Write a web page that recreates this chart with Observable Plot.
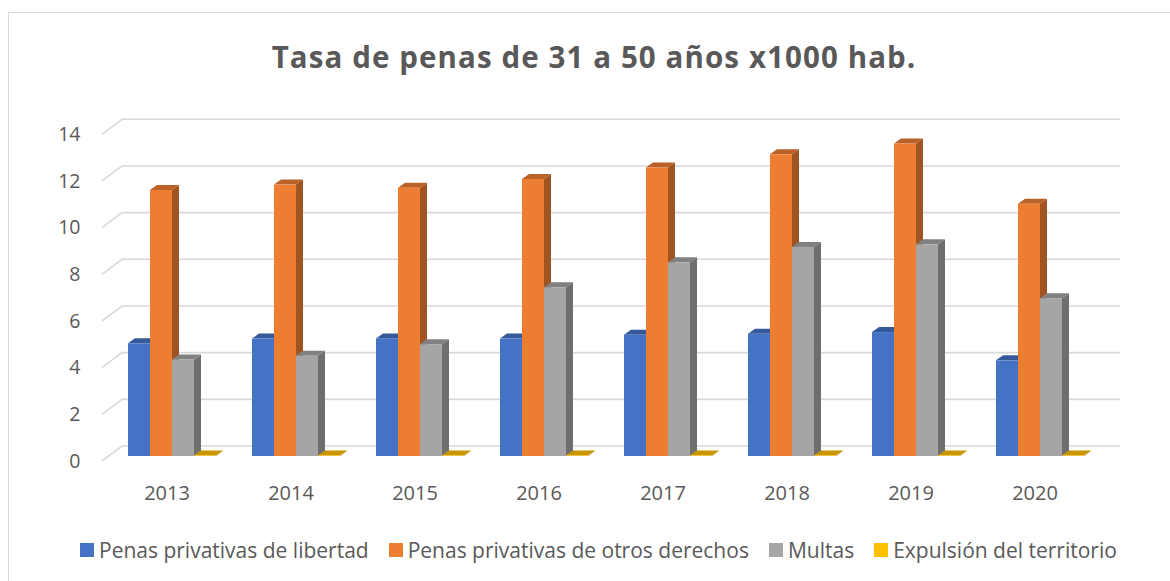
<!DOCTYPE html>
<html>
<head>
<meta charset="utf-8">
<script src="https://cdn.jsdelivr.net/npm/d3@7"></script>
<script src="https://cdn.jsdelivr.net/npm/@observablehq/plot@0.6"></script>
<style>
  html, body { margin: 0; padding: 0; background: #fff; }
  #wrap { position: relative; width: 1170px; height: 581px; overflow: hidden; font-family: "Open Sans", sans-serif; color: #595959; }
  #frame { position: absolute; left: 8px; top: 12px; width: 1300px; height: 700px; border-left: 1px solid #d9d9d9; border-top: 1px solid #d9d9d9; pointer-events: none; }
  #title { position: relative; height: 110px; box-sizing: border-box; padding-top: 42px; padding-left: 18px; text-align: center; font-weight: 700; font-size: 29.5px; line-height: 29.5px; letter-spacing: 1.1px; white-space: nowrap; }
  #chart { position: relative; height: 410px; }
  #chart svg { display: block; }
  #legend { position: relative; height: 61px; display: flex; align-items: center; padding-left: 80px; padding-bottom: 1px; box-sizing: border-box; font-size: 21px; white-space: nowrap; }
  .item { display: flex; align-items: center; margin-right: 20px; }
  .sw { width: 14px; height: 14px; margin-right: 5px; flex: none; }
</style>
</head>
<body>
<div id="wrap">
  <div id="frame"></div>
  <div id="title"></div>
  <div id="chart"></div>
  <div id="legend"></div>
</div>
<script>
// ---- data ----
const title = "Tasa de penas de 31 a 50 años x1000 hab.";
const years = ["2013", "2014", "2015", "2016", "2017", "2018", "2019", "2020"];
const series = [
  "Penas privativas de libertad",
  "Penas privativas de otros derechos",
  "Multas",
  "Expulsión del territorio"
];
const libertad      = [4.83, 5.03, 5.04, 5.03, 5.20, 5.24, 5.31, 4.10];
const otrosDerechos = [11.40, 11.63, 11.50, 11.87, 12.36, 12.93, 13.39, 10.81];
const multas        = [4.14, 4.30, 4.79, 7.23, 8.30, 8.96, 9.07, 6.76];
const expulsion     = [0.02, 0.02, 0.02, 0.02, 0.02, 0.02, 0.02, 0.02];
const yTicks = [0, 2, 4, 6, 8, 10, 12, 14];

// ---- styles ----
const colors = ["#4472C4", "#ED7D31", "#A5A5A5", "#FFC000"];
const W = 1170, H = 410;
const mL = 124, mR = 83, mT = 19.3, mB = 64;
const depthX = 7, depthY = 5;

const seriesValues = [libertad, otrosDerechos, multas, expulsion];
const rows = [];
years.forEach((year, i) => {
  series.forEach((s, j) => rows.push({ year, series: s, value: seriesValues[j][i] }));
});
const gridData = yTicks.map(v => ({ v, year: years[0] }));

document.getElementById("title").textContent = title;

function gridRender(index, scales, values) {
  const g = d3.create("svg:g");
  for (const i of index) {
    const y = values.y ? values.y[i] : scales.y(gridData[i].v);
    const yb = y - 10;
    g.append("path")
      .attr("d", `M${mL - 24},${y + 5}L${mL - 4},${yb}L${W - mR + 31},${yb}`)
      .attr("fill", "none")
      .attr("stroke", "#d9d9d9")
      .attr("stroke-width", 1.6);
  }
  return g.node();
}

function bar3D(index, scales, values) {
  const g = d3.create("svg:g");
  const bw = scales.x.bandwidth ? scales.x.bandwidth() : 22.8;
  const yBase = scales.y(0);
  for (const i of index) {
    const d = rows[i];
    const x0 = scales.x(d.series), x1 = x0 + bw;
    const yt = scales.y(d.value);
    const base = d3.color(values.fill ? values.fill[i] : scales.color(d.series));
    const side = base.darker(1.1).formatHex();
    const top = base.darker(0.7).formatHex();
    // side face
    g.append("polygon")
      .attr("points", `${x1},${yt} ${x1 + depthX},${yt - depthY} ${x1 + depthX},${yBase - depthY} ${x1},${yBase}`)
      .attr("fill", side);
    // top face
    g.append("polygon")
      .attr("points", `${x0},${yt} ${x0 + depthX},${yt - depthY} ${x1 + depthX},${yt - depthY} ${x1},${yt}`)
      .attr("fill", top);
    // front face
    g.append("rect")
      .attr("x", x0).attr("y", yt)
      .attr("width", bw).attr("height", Math.max(0, yBase - yt))
      .attr("fill", base.formatHex());
  }
  return g.node();
}

const chart = Plot.plot({
  width: W,
  height: H,
  marginLeft: mL,
  marginRight: mR,
  marginTop: mT,
  marginBottom: mB,
  style: { fontFamily: "Open Sans", color: "#595959", background: "transparent", overflow: "visible" },
  fx: { domain: years, paddingInner: 0.268, paddingOuter: 0, label: null },
  x: { domain: series, padding: 0, axis: null },
  y: { domain: [0, 14], label: null },
  color: { domain: series, range: colors },
  marks: [
    Plot.ruleY(gridData, { fx: "year", y: "v", render: gridRender }),
    Plot.barY(rows, { fx: "year", x: "series", y: "value", fill: "series", render: bar3D }),
    Plot.axisY(yTicks, { tickSize: 0, tickPadding: 46, dy: 5, fontSize: 19.5, label: null, tickFormat: d => String(d) }),
    Plot.axisFx({ anchor: "bottom", tickSize: 0, tickPadding: 29, dx: -5, fontSize: 20, label: null })
  ]
});
document.getElementById("chart").appendChild(chart);

const legend = document.getElementById("legend");
series.forEach((s, j) => {
  const item = document.createElement("div");
  item.className = "item";
  const sw = document.createElement("span");
  sw.className = "sw";
  sw.style.background = colors[j];
  const t = document.createElement("span");
  t.textContent = s;
  item.appendChild(sw);
  item.appendChild(t);
  legend.appendChild(item);
});
</script>
</body>
</html>
